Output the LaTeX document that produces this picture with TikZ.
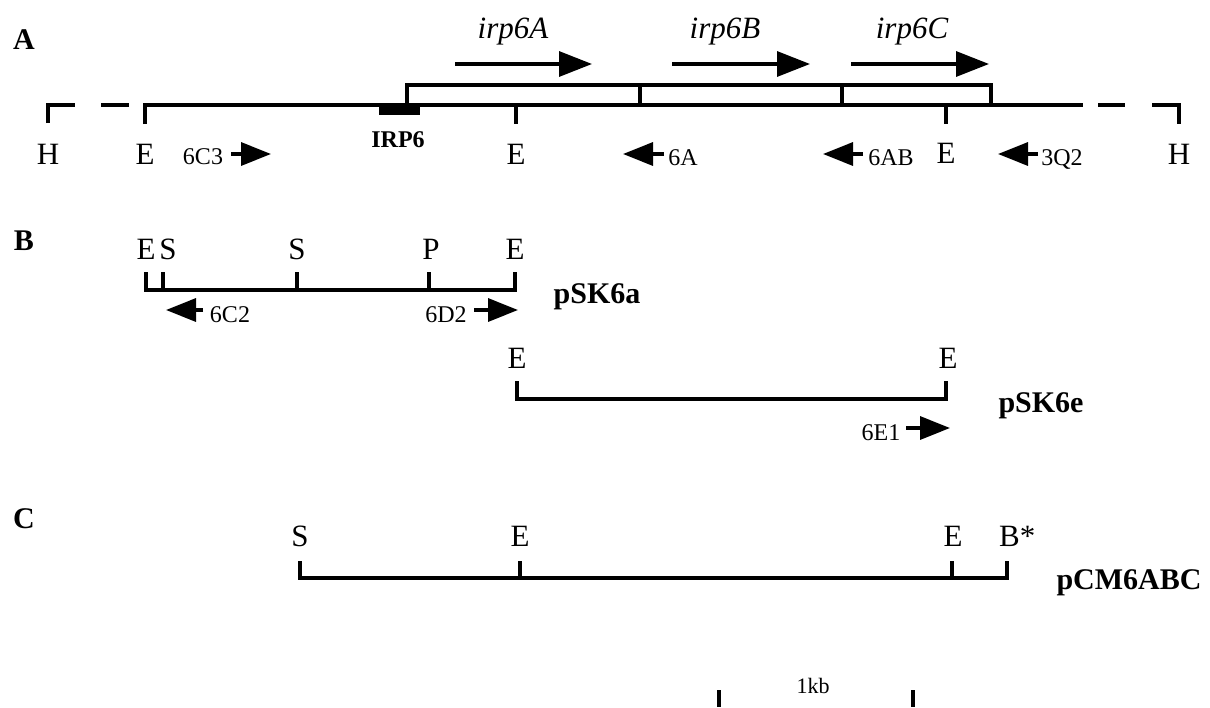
\documentclass[tikz,border=0pt]{standalone}
\usepackage{fontspec}
\setmainfont{Liberation Serif}
\usetikzlibrary{arrows.meta}
\begin{document}
\begin{tikzpicture}[x=1pt,y=-1pt,
  map/.style={line width=3.3pt},
  site/.style={font=\fontsize{31}{31}\selectfont, anchor=base, inner sep=0pt},
  primerlbl/.style={font=\fontsize{24}{24}\selectfont, anchor=base, inner sep=0pt},
  primer/.style={line width=3.3pt, -{Triangle[length=30pt,width=23pt]}},
  gene/.style={line width=3.3pt, -{Triangle[length=33pt,width=25pt]}},
  genelbl/.style={font=\fontsize{31}{31}\selectfont\itshape, anchor=base, inner sep=0pt},
  plasmid/.style={font=\fontsize{30}{30}\selectfont\bfseries, anchor=base, inner sep=0pt},
  panel/.style={font=\fontsize{30}{30}\selectfont\bfseries, anchor=base, inner sep=0pt}]
\useasboundingbox (0,0) rectangle (1210,707);

% ---------------- Panel A: genomic region ----------------
\node[panel] (lblA) at (24,49) {A};

% backbone with dashed flanks
\coordinate (hLtop) at (48,105);   \coordinate (hLbot) at (48,123);
\coordinate (dL1) at (75,105);
\coordinate (dL2a) at (101,105);   \coordinate (dL2b) at (129,105);
\coordinate (mapL) at (145,105);   \coordinate (mapR) at (1083,105);
\coordinate (dR1a) at (1098,105);  \coordinate (dR1b) at (1125,105);
\coordinate (hRtop) at (1179,105); \coordinate (hRbot) at (1179,124);
\coordinate (dR2) at (1152,105);
\draw[map] (hLbot) -- (hLtop) -- (dL1);
\draw[map] (dL2a) -- (dL2b);
\draw[map] (145,124) -- (mapL) -- (mapR);
\draw[map] (dR1a) -- (dR1b);
\draw[map] (dR2) -- (hRtop) -- (hRbot);

% EcoRI sites below the line
\draw[map] (516,105) -- (516,124);
\draw[map] (946,105) -- (946,124);

% operon box
\coordinate (boxSW) at (407,105); \coordinate (boxNE) at (991,85);
\draw[map] (boxSW) -- (407,85) -- (boxNE) -- (991,105);
\draw[map] (640,85) -- (640,105);
\draw[map] (842,85) -- (842,105);

% IRP6 block
\fill (379,104) rectangle (420,115);
\node[font=\fontsize{24}{24}\selectfont\bfseries, anchor=base, inner sep=0pt] (irp6) at (398,147) {IRP6};

% genes
\coordinate (gAs) at (455,64); \coordinate (gAe) at (592,64);
\coordinate (gBs) at (672,64); \coordinate (gBe) at (810,64);
\coordinate (gCs) at (851,64); \coordinate (gCe) at (989,64);
\draw[gene] (gAs) -- (gAe);
\draw[gene] (gBs) -- (gBe);
\draw[gene] (gCs) -- (gCe);
\node[genelbl] (irpA) at (513,38) {irp6A};
\node[genelbl] (irpB) at (725,38) {irp6B};
\node[genelbl] (irpC) at (912,38) {irp6C};

% sites
\node[site] (sH1) at (48,164) {H};
\node[site] (sE1) at (145,164) {E};
\node[site] (sE2) at (516,164) {E};
\node[site] (sE3) at (946,163) {E};
\node[site] (sH2) at (1179,164) {H};

% primers
\node[primerlbl] (p6C3) at (203,164) {6C3};
\coordinate (p6C3t) at (231,154); \coordinate (p6C3h) at (271,154);
\draw[primer] (p6C3t) -- (p6C3h);
\node[primerlbl] (p6A) at (683,165) {6A};
\coordinate (p6At) at (664,154); \coordinate (p6Ah) at (623,154);
\draw[primer] (p6At) -- (p6Ah);
\node[primerlbl] (p6AB) at (891,165) {6AB};
\coordinate (p6ABt) at (863,154); \coordinate (p6ABh) at (823,154);
\draw[primer] (p6ABt) -- (p6ABh);
\node[primerlbl] (p3Q2) at (1062,165) {3Q2};
\coordinate (p3Q2t) at (1038,154); \coordinate (p3Q2h) at (998,154);
\draw[primer] (p3Q2t) -- (p3Q2h);

% ---------------- Panel B: subclones ----------------
\node[panel] (lblB) at (24,250) {B};

% pSK6a
\coordinate (aL) at (146,290); \coordinate (aR) at (515,290);
\draw[map] (146,272) -- (aL) -- (aR) -- (515,272);
\draw[map] (163,272) -- (163,290);
\draw[map] (297,272) -- (297,290);
\draw[map] (429,272) -- (429,290);
\node[site] (aE1) at (146,259) {E};
\node[site] (aS1) at (168,259) {S};
\node[site] (aS2) at (297,259) {S};
\node[site] (aP)  at (431,259) {P};
\node[site] (aE2) at (515,259) {E};
\node[primerlbl] (p6C2) at (230,322) {6C2};
\coordinate (p6C2t) at (203,310); \coordinate (p6C2h) at (166,310);
\draw[primer] (p6C2t) -- (p6C2h);
\node[primerlbl] (p6D2) at (446,322) {6D2};
\coordinate (p6D2t) at (474,310); \coordinate (p6D2h) at (518,310);
\draw[primer] (p6D2t) -- (p6D2h);
\node[plasmid] (pSKa) at (597,303) {pSK6a};

% pSK6e
\coordinate (eL) at (517,399); \coordinate (eR) at (946,399);
\draw[map] (517,381) -- (eL) -- (eR) -- (946,381);
\node[site] (eE1) at (517,368) {E};
\node[site] (eE2) at (948,368) {E};
\node[primerlbl] (p6E1) at (881,440) {6E1};
\coordinate (p6E1t) at (906,428); \coordinate (p6E1h) at (950,428);
\draw[primer] (p6E1t) -- (p6E1h);
\node[plasmid] (pSKe) at (1041,412) {pSK6e};

% ---------------- Panel C: expression clone ----------------
\node[panel] (lblC) at (24,528) {C};
\coordinate (cL) at (300,578); \coordinate (cR) at (1007,578);
\draw[map] (300,561) -- (cL) -- (cR) -- (1007,561);
\draw[map] (520,561) -- (520,578);
\draw[map] (952,561) -- (952,578);
\node[site] (cS)  at (300,546) {S};
\node[site] (cE1) at (520,546) {E};
\node[site] (cE2) at (953,546) {E};
\node[site, anchor=base west] (cB) at (999,546) {B*};
\node[plasmid] (pCM) at (1129,589) {pCM6ABC};

% ---------------- scale bar ----------------
\coordinate (sbL) at (719,690); \coordinate (sbR) at (913,690);
\draw[map] (sbL) -- (719,707);
\draw[map] (sbR) -- (913,707);
\node[font=\fontsize{22}{22}\selectfont, anchor=base, inner sep=0pt] (kb) at (813,693) {1kb};
\end{tikzpicture}
\end{document}
